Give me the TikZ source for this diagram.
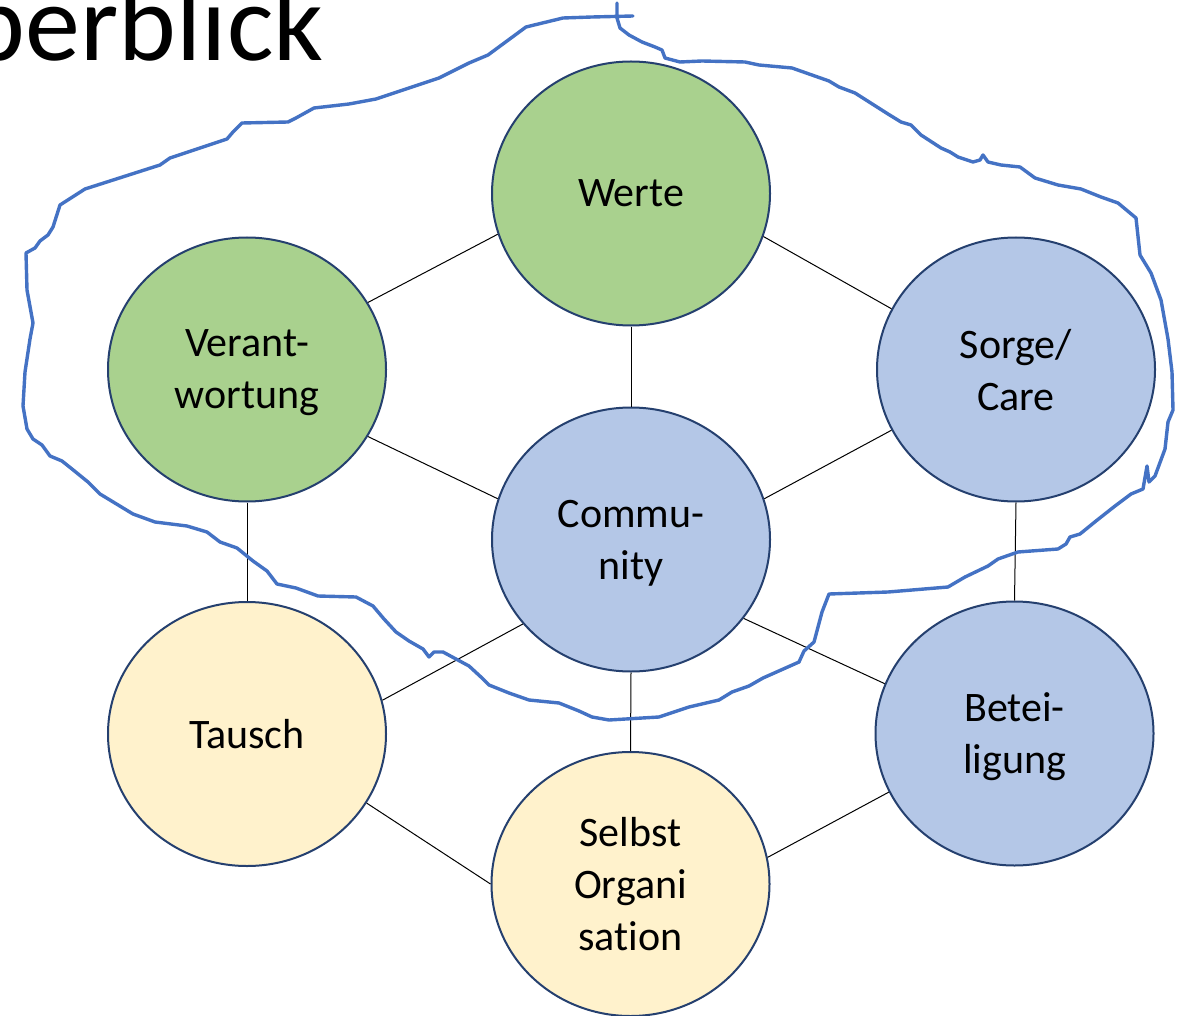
\documentclass[tikz,border=0pt]{standalone}
\usepackage{fontspec}
\setmainfont{Carlito}[Ligatures=NoCommon]
\usetikzlibrary{shapes.geometric}
\definecolor{gfill}{HTML}{A9D18E}
\definecolor{bfill}{HTML}{B4C7E7}
\definecolor{yfill}{HTML}{FFF2CC}
\definecolor{edgecol}{HTML}{25406F}
\definecolor{inkcol}{HTML}{4472C4}
\tikzset{
  bubble/.style={ellipse, draw=edgecol, line width=1pt, minimum width=139pt, minimum height=132pt,
    inner sep=0pt, align=center, text depth=0pt, font=\fontsize{21pt}{26pt}\selectfont},
  greenb/.style={bubble, fill=gfill},
  blueb/.style={bubble, fill=bfill},
  yellowb/.style={bubble, fill=yfill},
  link/.style={draw=black, line width=0.5pt},
  inkline/.style={draw=inkcol, line width=1.7pt, line join=round, line cap=round}
}
\begin{document}
\begin{tikzpicture}[x=0.5pt,y=-0.5pt]
\useasboundingbox (0,0) rectangle (1183,1016);
\clip (0,0) rectangle (1183,1016);
\fill[white] (0,0) rectangle (1183,1016);

\node[anchor=base east, inner sep=0pt, font=\fontsize{55pt}{60pt}\selectfont] (title) at (324,61) {Überblick};

\node[greenb] (werte) at (631,193.5) {Werte};
\node[greenb] (verant) at (247,369.5) {Verant-\\wortung};
\node[blueb] (sorge) at (1016,369.5) {Sorge/\\Care};
\node[blueb] (comm) at (631,539.5) {Commu-\\nity};
\node[yellowb] (tausch) at (247,734) {Tausch};
\node[blueb] (bet) at (1014.5,733.5) {Betei-\\ligung};
\node[yellowb] (selbst) at (630.5,884) {Selbst\\Organi\\sation};

\draw[link] (werte.197) -- (verant.29);
\draw[link] (werte.342.4) -- (sorge.154);
\draw[link] (werte.south) -- (comm.north);
\draw[link] (verant.331) -- (comm.163);
\draw[link] (comm.17.7) -- (sorge.206.7);
\draw[link] (verant.south) -- (tausch.north);
\draw[link] (sorge.south) -- (bet.north);
\draw[link] (comm.218.4) -- (tausch.14.9);
\draw[link] (comm.325.8) -- (bet.159.6);
\draw[link] (comm.south) -- (selbst.north);
\draw[link] (tausch.330) -- (selbst.180);
\draw[link] (selbst.11.6) -- (bet.205.2);

\draw[inkline] (633,16) -- (592,17) -- (563,18) -- (526,27) -- (488,55) -- (469,63) -- (453,71) -- (439,78) -- (376,99) -- (349,104) -- (314,108) -- (296,118) -- (288,122) -- (242,123) -- (233,132) -- (227,139) -- (170,158) -- (160,165) -- (85,189) -- (60,205) -- (53,227) -- (48,235) -- (40,241) -- (35,248) -- (26,253) -- (27,290) -- (33,323) -- (30,339) -- (25,372) -- (23,406) -- (27,429) -- (33,439) -- (42,445) -- (50,456) -- (62,461) -- (72,469) -- (88,482) -- (100,494) -- (133,514) -- (155,522) -- (187,526) -- (207,532) -- (220,542) -- (237,548) -- (253,561) -- (267,571) -- (277,584) -- (296,588) -- (318,596) -- (356,597) -- (373,606) -- (384,619) -- (396,632) -- (409,641) -- (423,649) -- (429,657) -- (434,652) -- (443,652) -- (456,659) -- (469,666) -- (482,678) -- (489,685) -- (509,693) -- (529,700) -- (559,703) -- (579,711) -- (592,717) -- (609,720) -- (659,717) -- (689,707) -- (719,700) -- (732,692) -- (749,686) -- (763,678) -- (799,662) -- (804,651) -- (814,642) -- (822,612) -- (829,594) -- (888,592) -- (948,587) -- (965,577) -- (988,566) -- (998,559) -- (1018,552) -- (1058,549) -- (1066,544) -- (1070,537) -- (1080,534) -- (1096,521) -- (1115,506) -- (1131,494) -- (1143,489) -- (1147,466) -- (1149,482) -- (1155,476) -- (1165,449) -- (1168,422) -- (1173,410) -- (1172,372) -- (1168,339) -- (1161,300) -- (1151,273) -- (1140,255) -- (1136,218) -- (1118,203) -- (1101,197) -- (1081,189) -- (1058,185) -- (1035,178) -- (1020,167) -- (1001,165) -- (988,162) -- (983,155) -- (980,160) -- (973,162) -- (958,157) -- (950,152) -- (941,148) -- (921,135) -- (911,125) -- (901,122) -- (888,114) -- (855,93) -- (839,87) -- (829,81) -- (792,68) -- (759,65) -- (745,62) -- (702,61) -- (680,62) -- (665,58) -- (662,50) -- (655,47) -- (642,42) -- (629,35) -- (620,28) -- (617,18) -- (617,3);
\end{tikzpicture}
\end{document}
